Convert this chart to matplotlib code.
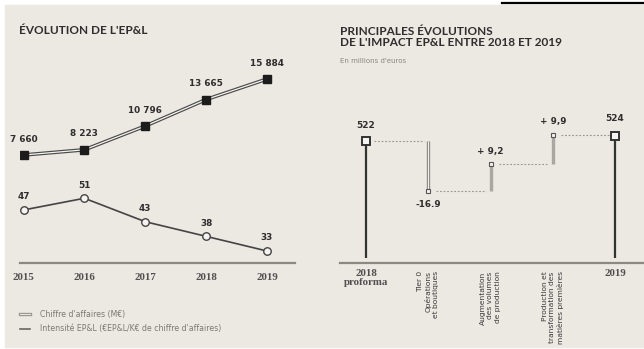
import numpy as np
import matplotlib.pyplot as plt
from matplotlib.patches import Rectangle
from matplotlib.lines import Line2D

# --- data ---
years = [2015, 2016, 2017, 2018, 2019]
revenue = [7660, 8223, 10796, 13665, 15884]          # Chiffre d'affaires (M€)
revenue_labels = ["7 660", "8 223", "10 796", "13 665", "15 884"]
intensity = [47, 51, 43, 38, 33]                     # €EP&L / K€
wf_categories = ["2018\nproforma",
                 "Tier 0\nOpérations\net boutiques",
                 "Augmentation\ndes volumes\nde production",
                 "Production et\ntransformation des\nmatières premières",
                 "2019"]
wf_start = 522
wf_changes = [-16.9, 9.2, 9.9]
wf_end = 524
wf_labels = ["522", "-16.9", "+ 9,2", "+ 9,9", "524"]

W, H = 644, 349
BG = "#ece8e2"
LIGHT = "#f6f4f1"
DARK = "#2e2e2e"

fig = plt.figure(figsize=(W / 100, H / 100), dpi=100)
fig.patch.set_facecolor("white")


def fx(px):
    return px / W


def fy(py):
    return 1 - py / H


def px_axes(x0, y0, x1, y1):
    ax = fig.add_axes([fx(x0), fy(y1), fx(x1) - fx(x0), fy(y0) - fy(y1)])
    ax.set_facecolor("none")
    for s in ax.spines.values():
        s.set_visible(False)
    ax.set_xticks([])
    ax.set_yticks([])
    return ax


# beige page + scrap of the top rule
fig.patches.append(Rectangle((fx(5), fy(347)), 1 - fx(5), fy(5) - fy(347),
                             transform=fig.transFigure, color=BG, zorder=-5))
fig.lines.append(Line2D([fx(502), 1], [fy(3), fy(3)], transform=fig.transFigure,
                        color="black", lw=1.6))

sans = "DejaVu Sans"
serif = "Liberation Serif"
title_font = "Lato"

# ---------------- left panel ----------------
fig.text(fx(19), fy(31), "ÉVOLUTION DE L'EP&L", fontsize=8.5, fontweight="bold",
         color=DARK, va="center", family=title_font)

x0px, x1px = 20, 295
step = 60.8
xmin = years[0] - (23.5 - x0px) / step
xmax = years[-1] + (x1px - 267) / step

ax = px_axes(x0px, 60, x1px, 263)
ax.set_xlim(xmin, xmax)
ax.set_ylim(-4027, 17940)
ax.plot(years, revenue, color="#4a4a4a", lw=2.6, solid_capstyle="butt", zorder=2)
ax.plot(years, revenue, color=LIGHT, lw=0.9, zorder=3)
ax.plot(years, revenue, ls="none", marker="s", ms=5.4, color="#1c1c1c", zorder=4)
for x, y, t in zip(years, revenue, revenue_labels):
    ax.annotate(t, (x, y), xytext=(0, 11.5), textcoords="offset points",
                ha="center", va="center", fontsize=6.4, fontweight="bold", color=DARK)

ax2 = ax.twinx()
ax2.set_facecolor("none")
for s in ax2.spines.values():
    s.set_visible(False)
ax2.set_yticks([])
ax2.set_ylim(28.9, 98.2)
ax2.plot(years, intensity, color="#444444", lw=1.2, marker="o", ms=5.4,
         mfc=LIGHT, mec="#444444", mew=1.0, zorder=3)
for x, y in zip(years, intensity):
    ax2.annotate(str(y), (x, y), xytext=(0, 9.5), textcoords="offset points",
                 ha="center", va="center", fontsize=6.4, fontweight="bold", color=DARK)

ax.axhline(-4027, color="#8c8985", lw=1.6, clip_on=False)
ax.set_xticks(years)
ax.set_xticklabels([str(y) for y in years], family=serif, fontsize=7.8,
                   color="#505050", fontweight="bold")
ax.tick_params(axis="x", length=0, pad=7)

# legend
fig.lines.append(Line2D([fx(20), fx(30)], [fy(314), fy(314)], transform=fig.transFigure,
                        color="#9a9792", lw=2.4))
fig.lines.append(Line2D([fx(20), fx(30)], [fy(314), fy(314)], transform=fig.transFigure,
                        color=BG, lw=0.7))
fig.lines.append(Line2D([fx(20), fx(30)], [fy(329), fy(329)], transform=fig.transFigure,
                        color="#6a6762", lw=1.2))
fig.text(fx(40), fy(315), "Chiffre d'affaires (M€)", fontsize=5.6, color="#7d7873",
         va="center", family=sans)
fig.text(fx(40), fy(329), "Intensité EP&L (€EP&L/K€ de chiffre d'affaires)",
         fontsize=5.6, color="#7d7873", va="center", family=sans)

# ---------------- right panel ----------------
fig.text(fx(340), fy(31.5), "PRINCIPALES ÉVOLUTIONS", fontsize=8.5, fontweight="bold",
         color=DARK, va="center", family=title_font)
fig.text(fx(340), fy(43), "DE L'IMPACT EP&L ENTRE 2018 ET 2019", fontsize=8.5,
         fontweight="bold", color=DARK, va="center", family=title_font)
fig.text(fx(340), fy(61), "En millions d'euros", fontsize=5.0, color="#8a8580",
         va="center", family=sans)

bx = np.arange(len(wf_categories))
wstep = 62.25
axr = px_axes(340, 60, 644, 263)
axr.set_xlim(-(366 - 340) / wstep, 4 + (644 - 615) / wstep)
ylo, yhi = 480.36, 549.9
axr.set_ylim(ylo, yhi)
bar_bottom = ylo + 5 / 2.92

levels = [wf_start]
for c in wf_changes:
    levels.append(levels[-1] + c)
levels = np.round(levels, 1)

# totals
for i, v in ((0, wf_start), (4, wf_end)):
    axr.plot([bx[i], bx[i]], [bar_bottom, v], color="#333333", lw=1.6,
             solid_capstyle="butt", zorder=2)
    axr.plot(bx[i], v, marker="s", ms=5.6, mfc=LIGHT, mec="#333333", mew=1.4, zorder=3)

# changes
for k, c in enumerate(wf_changes):
    i = k + 1
    a, b = levels[k], levels[k + 1]
    if c < 0:
        axr.plot([bx[i], bx[i]], [a, b], color="#8f8c88", lw=2.4,
                 solid_capstyle="butt", zorder=2)
        axr.plot([bx[i], bx[i]], [a, b], color=LIGHT, lw=0.7,
                 solid_capstyle="butt", zorder=2)
    else:
        axr.plot([bx[i], bx[i]], [a, b], color="#aaa7a2", lw=2.4,
                 solid_capstyle="butt", zorder=2)
    axr.plot(bx[i], b, marker="s", ms=3.2, mfc=LIGHT, mec="#555555", mew=0.8, zorder=3)

# dotted connectors
for k in range(len(levels)):
    axr.plot([bx[k] + 0.13, bx[k + 1] - 0.07], [levels[k], levels[k]],
             color="#9a9792", lw=0.8, ls=(0, (1.6, 1.6)), zorder=1)

# value labels
tops = [wf_start] + list(levels[1:4]) + [wf_end]
offsets = [11.5, -10, 9, 10, 12.5]
for i, (v, t, o) in enumerate(zip(tops, wf_labels, offsets)):
    axr.annotate(t, (bx[i], v), xytext=(0, o), textcoords="offset points",
                 ha="center", va="center", fontsize=6.4, fontweight="bold", color=DARK)

axr.axhline(ylo, color="#8c8985", lw=1.6, clip_on=False)

# category labels
for i, lab in enumerate(wf_categories):
    if i in (0, 4):
        axr.annotate(lab, (bx[i], ylo), xytext=(0, -4.5), textcoords="offset points",
                     ha="center", va="top", family=serif, fontsize=7.8,
                     fontweight="bold", color="#505050", linespacing=1.0)
    else:
        axr.annotate(lab, (bx[i], ylo), xytext=(0, -6), textcoords="offset points",
                     rotation=90, ha="center", va="top", multialignment="right",
                     fontsize=5.4, color="#3a3a3a", family=sans, linespacing=1.25)

fig.savefig("out.png", dpi=100, facecolor=fig.get_facecolor())
